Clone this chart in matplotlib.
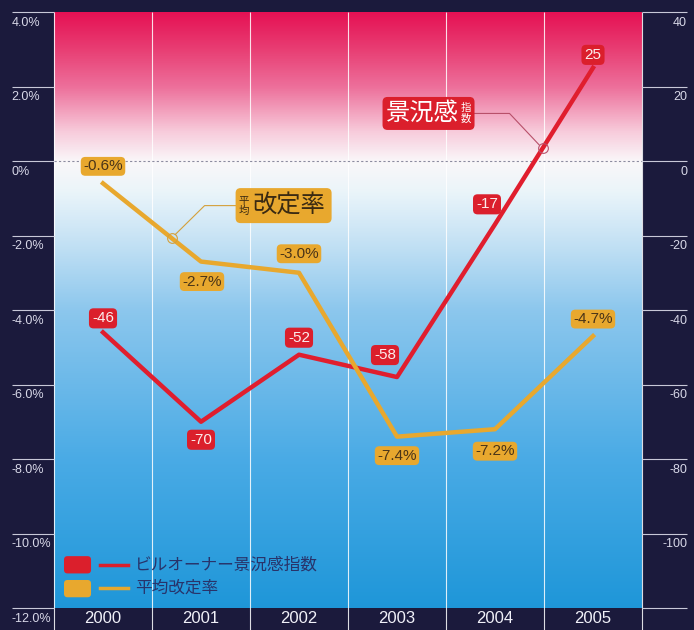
import numpy as np
import matplotlib
matplotlib.use("Agg")
import matplotlib.pyplot as plt
import matplotlib.transforms as mtransforms
from matplotlib.colors import LinearSegmentedColormap
from matplotlib.patches import FancyBboxPatch

plt.rcParams['font.family'] = ['Liberation Sans', 'Noto Sans CJK JP', 'DejaVu Sans']

# data
years = ['2000', '2001', '2002', '2003', '2004', '2005']
owner_index = [-46, -70, -52, -58, -17, 25]          # ビルオーナー景況感指数 (right axis)
rent_change = [-0.6, -2.7, -3.0, -7.4, -7.2, -4.7]   # 平均改定率 (%) (left axis)
left_ticks = [4, 2, 0, -2, -4, -6, -8, -10, -12]
left_labels = ['4.0%', '2.0%', '0%', '-2.0%', '-4.0%', '-6.0%', '-8.0%', '-10.0%', '-12.0%']
right_ticks = [40, 20, 0, -20, -40, -60, -80, -100, -120]
right_labels = ['40', '20', '0', '-20', '-40', '-60', '-80', '-100', '']
legend_names = ['ビルオーナー景況感指数', '平均改定率']

# label offsets in pixels (dx, dy up)
index_offsets = [(0, 14), (0, -18), (0, 17), (-12, 22), (-8, 20), (0, 13)]
rent_offsets = [(0, 17), (1, -20), (0, 19), (0, -19), (0, -22), (0, 17)]

RED = '#db1f2c'
ORANGE = '#e8a82e'
NAVY = '#1b1a3c'

fig = plt.figure(figsize=(6.94, 6.30), dpi=100, facecolor=NAVY)
ax = fig.add_axes([54/694, 22/630, 588/694, 596/630])
ax2 = ax.twinx()
ax.set_zorder(2)
ax2.set_zorder(1)
ax.patch.set_visible(False)

x = np.arange(len(years))

# background gradient
cmap = LinearSegmentedColormap.from_list('bg', [
    (0.00, (0.12, 0.59, 0.85)),
    (0.25, (0.29, 0.67, 0.90)),
    (0.50, (0.55, 0.78, 0.93)),
    (0.62, (0.78, 0.89, 0.96)),
    (0.70, (0.92, 0.96, 0.98)),
    (0.75, (0.98, 0.97, 0.98)),
    (0.80, (0.97, 0.80, 0.86)),
    (0.875, (0.93, 0.44, 0.61)),
    (0.94, (0.91, 0.24, 0.45)),
    (1.00, (0.90, 0.07, 0.33)),
])
grad = np.linspace(0, 1, 256).reshape(-1, 1)
ax2.imshow(grad, extent=[-0.5, 5.5, -120, 40], origin='lower', aspect='auto',
           cmap=cmap, zorder=0)

ax.set_xlim(-0.5, 5.5)
ax.set_ylim(-12, 4)
ax2.set_ylim(-120, 40)
for a in (ax, ax2):
    for s in a.spines.values():
        s.set_visible(False)

ax2.vlines(np.arange(-0.5, 6, 1), -126, 40, colors='white', lw=0.8, alpha=0.85,
           clip_on=False, zorder=1)
ax2.axhline(0, color='#8c8ca0', lw=0.8, ls=(0, (2, 2)), zorder=1)

# lines
ax2.plot(x, owner_index, color='#e01e2e', lw=3.2, zorder=3)
ax.plot(x, rent_change, color=ORANGE, lw=3.2, zorder=3)

# value labels
for i, v in enumerate(owner_index):
    dx, dy = index_offsets[i]
    ax2.annotate(f'{v}', (i, v), xytext=(dx * 0.72, dy * 0.72), textcoords='offset points',
                 ha='center', va='center', fontsize=11, color='#fcecec', zorder=5,
                 bbox=dict(boxstyle='round,pad=0.2,rounding_size=0.3', fc=RED, ec='none'))
for i, v in enumerate(rent_change):
    dx, dy = rent_offsets[i]
    ax.annotate(f'{v:.1f}%', (i, v), xytext=(dx * 0.72, dy * 0.72), textcoords='offset points',
                ha='center', va='center', fontsize=11, color='#4a3418', zorder=5,
                bbox=dict(boxstyle='round,pad=0.16,rounding_size=0.3', fc=ORANGE, ec='none'))


def callout(a, px, py, box, big, big_x, small, small_x, cy_off, fc, tc, lc, knee_x):
    # everything in inches relative to the anchor point on the line
    tr = fig.dpi_scale_trans + mtransforms.ScaledTranslation(px, py, a.transData)
    x0, x1, y0, y1 = box
    a.add_patch(FancyBboxPatch((x0, y0), x1 - x0, y1 - y0, transform=tr,
                               boxstyle='round,pad=0,rounding_size=0.05',
                               fc=fc, ec='none', zorder=6, clip_on=False))
    a.text(big_x, cy_off, big, transform=tr, ha='center', va='center',
           fontsize=17.5, color=tc, zorder=7)
    a.text(small_x, cy_off, small, transform=tr, ha='center', va='center',
           fontsize=7.5, linespacing=1.0, color=tc, zorder=7)
    edge = x1 if knee_x > x1 else x0
    ang = np.arctan2(cy_off, knee_x)
    r = 0.05
    a.plot([edge, knee_x, r * np.cos(ang)], [cy_off, cy_off, r * np.sin(ang)],
           transform=tr, color=lc, lw=0.8, zorder=5, clip_on=False)
    a.plot([0], [0], 'o', transform=tr, ms=7, mfc='none', mec=lc, mew=0.8, zorder=4)


# callout: 景況感指数
cx = 4.485
cy = np.interp(cx, x, owner_index)
callout(ax2, cx, cy, (-1.60, -0.68, 0.185, 0.515), '景況感', -1.205, '指\n数', -0.77,
        0.35, RED, 'white', '#b8506a', -0.33)

# callout: 平均改定率
ox = 0.70
oy = np.interp(ox, x, rent_change)
callout(ax, ox, oy, (0.64, 1.60, 0.15, 0.50), '改定率', 1.175, '平\n均', 0.72,
        0.325, ORANGE, '#3a2a12', '#d4a03a', 0.33)

# axes ticks
ax.set_xticks(x, years)
ax.tick_params(axis='x', length=0, pad=2, labelsize=12, labelcolor='#f0f0f8')
ax.set_yticks(left_ticks, left_labels)
ax.tick_params(axis='y', length=30.5, width=0.8, color='#c8c8d8', pad=0,
               labelsize=9, labelcolor='#d8d8e8')
ax2.set_yticks(right_ticks, right_labels)
ax2.tick_params(axis='y', length=32.5, width=0.8, color='#c8c8d8', pad=0,
                labelsize=9, labelcolor='#d8d8e8')
down = mtransforms.ScaledTranslation(0, -3.5/72, fig.dpi_scale_trans)
for lbl in ax.get_yticklabels():
    lbl.set_ha('left')
    lbl.set_va('top')
    lbl.set_transform(lbl.get_transform() + down)
for lbl in ax2.get_yticklabels():
    lbl.set_ha('right')
    lbl.set_va('top')
    lbl.set_transform(lbl.get_transform() + down)

# legend
for (y0, col), name, ly in zip([(0.058, RED), (0.018, ORANGE)], legend_names, [0.072, 0.034]):
    ax.add_patch(FancyBboxPatch((0.017, y0), 0.046, 0.029, transform=ax.transAxes,
                                boxstyle='round,pad=0,rounding_size=0.006',
                                fc=col, ec='none', zorder=6))
    ax.plot([0.078, 0.126], [ly, ly], transform=ax.transAxes, color=col, lw=2.5, zorder=6)
    ax.text(0.138, ly, name, transform=ax.transAxes, ha='left', va='center',
            fontsize=12, color='#28336a', zorder=6)

fig.savefig('out.png', dpi=100, facecolor=NAVY)
